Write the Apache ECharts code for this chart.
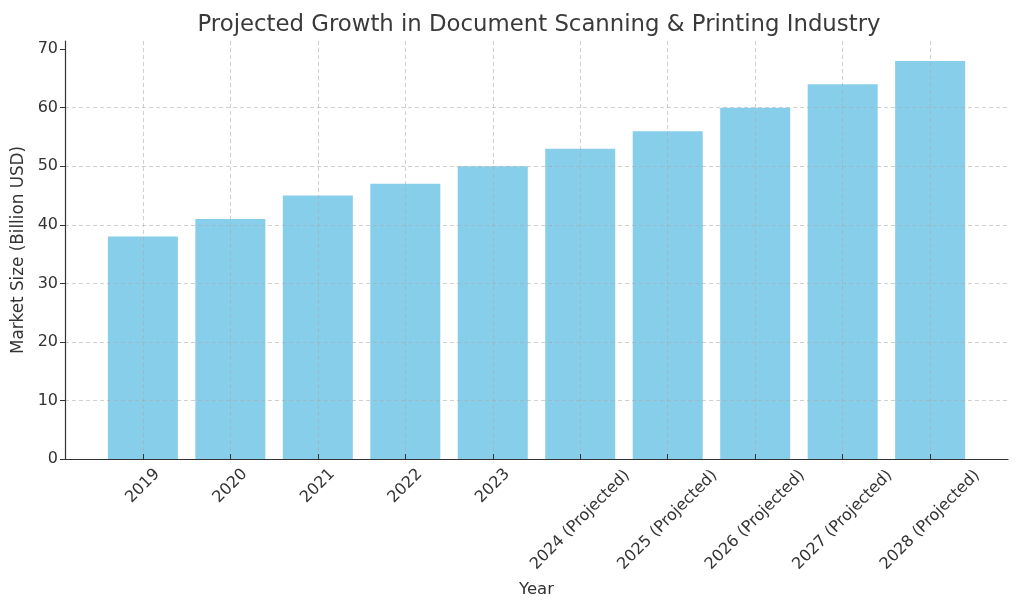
<!DOCTYPE html>
<html>
<head>
<meta charset="utf-8">
<script src="https://cdn.jsdelivr.net/npm/echarts@6/dist/echarts.min.js"></script>
<style>html,body{margin:0;padding:0;background:#fff}#c{width:1024px;height:614px}</style>
</head>
<body>
<div id="c"></div>
<script>
var categories = ['2019','2020','2021','2022','2023','2024 (Projected)','2025 (Projected)','2026 (Projected)','2027 (Projected)','2028 (Projected)'];
var marketSize = [38, 41, 45, 47, 50, 53, 56, 60, 64, 68];
var yTicks = [0, 10, 20, 30, 40, 50, 60, 70];

var idx = categories.map(function (c, i) { return i; });
var shortIdx = idx.filter(function (i) { return categories[i].length <= 4; });
var longIdx = idx.filter(function (i) { return categories[i].length > 4; });
var barData = marketSize.map(function (v, i) { return [i, v]; });

var font = 'DejaVu Sans';
var textColor = '#333';
var gridLine = { show: true, lineStyle: { color: 'rgba(170,170,170,0.55)', type: [4, 3], width: 1 } };

var chart = echarts.init(document.getElementById('c'), null, { renderer: 'canvas' });
chart.setOption({
  animation: false,
  title: {
    text: 'Projected Growth in Document Scanning & Printing Industry',
    left: 534, top: 9, textAlign: 'center',
    textStyle: { fontFamily: font, fontSize: 22.8, fontWeight: 'normal', color: '#3a3a3a' }
  },
  grid: { left: 65, right: 16, top: 41, bottom: 155, containLabel: false },
  xAxis: [{
    type: 'value', min: -0.89, max: 9.89, position: 'bottom', z: 5,
    name: 'Year', nameLocation: 'middle', nameGap: 122,
    nameTextStyle: { fontFamily: font, fontSize: 16.5, color: textColor },
    axisLine: { show: true, onZero: false, lineStyle: { color: '#333', width: 1.2 } },
    axisTick: { show: true, inside: true, length: 5, customValues: idx, lineStyle: { color: '#333' } },
    axisLabel: {
      customValues: shortIdx, rotate: 45, align: 'center', verticalAlign: 'middle', margin: 27,
      fontFamily: font, fontSize: 16, color: textColor,
      formatter: function (v) { return categories[Math.round(v)] || ''; }
    },
    splitLine: gridLine
  }, {
    type: 'value', min: -0.89, max: 9.89, position: 'bottom', z: 5,
    axisLine: { show: false }, axisTick: { show: false }, splitLine: { show: false },
    axisLabel: {
      customValues: longIdx, rotate: 45, align: 'center', verticalAlign: 'middle', margin: 61,
      fontFamily: font, fontSize: 16, color: textColor,
      formatter: function (v) { return categories[Math.round(v)] || ''; }
    }
  }],
  yAxis: {
    type: 'value', min: 0, max: 71.4, z: 5,
    name: 'Market Size (Billion USD)', nameLocation: 'middle', nameGap: 32,
    nameTextStyle: { fontFamily: font, fontSize: 16.8, color: textColor },
    axisLine: { show: true, onZero: false, lineStyle: { color: '#333', width: 1.2 } },
    axisTick: { show: true, length: 5, customValues: yTicks, lineStyle: { color: '#333' } },
    axisLabel: { customValues: yTicks, margin: 7, fontFamily: font, fontSize: 16, color: textColor },
    splitLine: Object.assign({ showMaxLine: false, showMinLine: false }, gridLine)
  },
  series: [{
    type: 'bar', xAxisIndex: 0, data: barData, barWidth: 70, z: 2,
    itemStyle: { color: '#87CEEB' }
  }]
});
</script>
</body>
</html>
